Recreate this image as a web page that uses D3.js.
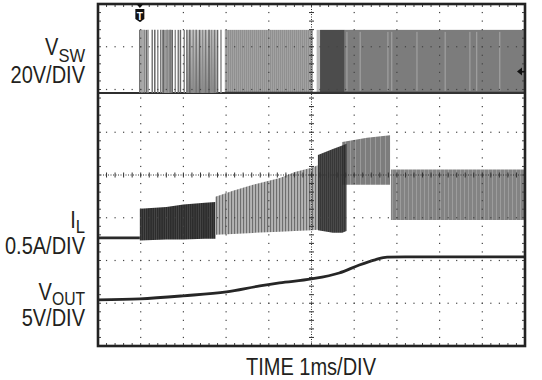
<!DOCTYPE html>
<html><head><meta charset="utf-8">
<script src="https://cdn.jsdelivr.net/npm/d3@7"></script>
<style>
html,body{margin:0;padding:0;background:#fff;}
svg{display:block;}
text{font-family:"Liberation Sans",Arial,Helvetica,sans-serif;fill:#231f20;}
</style></head><body>
<svg id="c" width="542" height="380"></svg>
<script>
// ---------- data ----------
const timeDomainMs = [0, 10];          // 1 ms/div, 10 divisions
const divDomain = [-4, 4];             // 8 vertical divisions
const vswPerDiv = 20, ilPerDiv = 0.5, voutPerDiv = 5;
const vswGroundDiv = 1.92, ilGroundDiv = -1.47, voutGroundDiv = -2.92;
const triggerTimeMs = 0.98;
const triggerLevelV = 10;

// V_SW: isolated switching pulses at start-up, then continuous switching bands
const vswHighV = 29.5;
const vswPulseT = [0.98,1.03,1.08,1.13,1.17,1.27,1.33,1.40,1.47,1.53,1.62,1.69,1.74,1.81,1.88,1.93,2.02,2.08,2.15,2.23,2.30,2.38,2.45,2.52,2.60,2.66,2.73,2.80,2.88];
const vswBurstStart = [1.50, 2.08];
const vswBurstEnd   = [1.73, 2.78];
const vswBandStart = [2.97, 5.12, 5.20, 5.78];
const vswBandEnd   = [5.03, 5.20, 5.78, 10.0];
const vswGlitchT = [5.83, 6.14, 6.79, 6.88, 7.47, 8.13, 8.71, 8.87, 9.41];

// I_L envelopes (A)
const ilIdleT = [0, 0.98];
const ilIdleA = [0, 0];
const ilBand1T  = [0.98, 1.6, 2.0, 2.5, 2.75];
const ilBand1Hi = [0.34, 0.36, 0.39, 0.41, 0.42];
const ilBand1Lo = [-0.03, -0.02, -0.02, -0.01, -0.01];
const ilBand2T  = [2.75, 3.16, 3.63, 4.26, 4.61, 5.0, 5.15];
const ilBand2Hi = [0.48, 0.55, 0.62, 0.70, 0.77, 0.82, 0.85];
const ilBand2Lo = [0.035, 0.045, 0.058, 0.07, 0.08, 0.09, 0.094];
const ilBand3T  = [5.15, 5.5, 5.72, 5.82];
const ilBand3Hi = [0.97, 1.04, 1.08, 1.10];
const ilBand3Lo = [0.09, 0.06, 0.06, 0.08];
const ilBand4T  = [5.72, 6.30, 6.84];
const ilBand4Hi = [1.12, 1.17, 1.20];
const ilBand4Lo = [0.62, 0.62, 0.62];
const ilBand5T  = [6.86, 8.0, 10.0];
const ilBand5Hi = [0.80, 0.80, 0.80];
const ilBand5Lo = [0.21, 0.21, 0.21];

// V_OUT (V)
const voutT = [0, 0.98, 1.99, 3.01, 3.79, 4.25, 5.0, 5.65, 6.12, 6.49, 6.77, 7.2, 10];
const voutV = [0, 0.12, 0.47, 0.93, 1.63, 1.98, 2.44, 3.14, 4.07, 4.68, 5.0, 5.02, 5.02];

// labels
const labelMain = ["V", "20V/DIV", "I", "0.5A/DIV", "V", "5V/DIV"];
const labelSub = ["SW", "L", "OUT"];
const xAxisLabel = "TIME 1ms/DIV";

// ---------- drawing ----------
const svg = d3.select("#c");
const x = d3.scaleLinear().domain(timeDomainMs).range([98, 525]);
const y = d3.scaleLinear().domain(divDomain).range([346, 4]);
const yV = v => y(v / vswPerDiv + vswGroundDiv);
const yI = a => y(a / ilPerDiv + ilGroundDiv);
const yO = v => y(v / voutPerDiv + voutGroundDiv);

const defs = svg.append("defs");
function stripe(id, w, bg, fg, lw) {
  const p = defs.append("pattern").attr("id", id).attr("patternUnits", "userSpaceOnUse")
    .attr("width", w).attr("height", 20);
  p.append("rect").attr("width", w).attr("height", 20).attr("fill", bg);
  p.append("rect").attr("width", lw).attr("height", 20).attr("fill", fg);
}
stripe("ilDark", 2.2, "#2c2c2c", "#4a4a4a", 0.7);
stripe("ilLight", 3, "#b4b4b4", "#6e6e6e", 1.1);
stripe("ilDarkMid", 2, "#3a3a3a", "#262626", 1);
stripe("ilMed", 5, "#7d7d7d", "#9a9a9a", 1);
stripe("ilMed5", 4, "#838383", "#a3a3a3", 0.8);
stripe("vswLight", 2, "#a2a2a2", "#8c8c8c", 0.8);
const g1 = defs.append("linearGradient").attr("id", "burst").attr("x1", 0).attr("x2", 0).attr("y1", 0).attr("y2", 1);
g1.append("stop").attr("offset", "0%").attr("stop-color", "#c8c8c8");
g1.append("stop").attr("offset", "100%").attr("stop-color", "#8a8a8a");

const traces = svg.append("g");

// V_SW baseline
traces.append("line").attr("x1", x(0)).attr("x2", x(10)).attr("y1", yV(0)).attr("y2", yV(0))
  .attr("stroke", "#2e2e2e").attr("stroke-width", 2);
vswBurstStart.forEach((t0, i) => traces.append("rect").attr("x", x(t0)).attr("width", x(vswBurstEnd[i]) - x(t0))
  .attr("y", yV(vswHighV)).attr("height", yV(0) - yV(vswHighV)).attr("fill", i === 0 ? "#9c9c9c" : "url(#burst)"));
vswPulseT.forEach((t, i) => traces.append("line").attr("x1", x(t)).attr("x2", x(t))
  .attr("y1", yV(vswHighV)).attr("y2", yV(0)).attr("stroke", i % 3 === 0 ? "#666" : (i % 3 === 1 ? "#8a8a8a" : "#777"))
  .attr("stroke-width", 1.5));
const vswFills = ["url(#vswLight)", "#b8b8b8", "#4c4c4c", "#7c7c7c"];
vswBandStart.forEach((t0, i) => traces.append("rect").attr("x", x(t0)).attr("width", x(vswBandEnd[i]) - x(t0))
  .attr("y", yV(vswHighV)).attr("height", yV(0) - yV(vswHighV)).attr("fill", vswFills[i]));
vswGlitchT.forEach(t => traces.append("line").attr("x1", x(t)).attr("x2", x(t))
  .attr("y1", yV(vswHighV) + 2).attr("y2", yV(0) - 2).attr("stroke", "#a8a8a8").attr("stroke-width", 1));
traces.append("line").attr("x1", x(vswBandStart[0])).attr("x2", x(10)).attr("y1", yV(0)).attr("y2", yV(0))
  .attr("stroke", "#333").attr("stroke-width", 2.2);

// I_L
const band = (T, Hi, Lo) => d3.area().x((d, i) => x(T[i])).y0((d, i) => yI(Lo[i])).y1((d, i) => yI(Hi[i]))(T);
traces.append("path").attr("d", d3.line().x((d, i) => x(ilIdleT[i])).y((d, i) => yI(ilIdleA[i]))(ilIdleT))
  .attr("stroke", "#2a2a2a").attr("stroke-width", 2.6).attr("fill", "none");
traces.append("path").attr("d", band(ilBand1T, ilBand1Hi, ilBand1Lo)).attr("fill", "url(#ilDark)");
traces.append("path").attr("d", band(ilBand2T, ilBand2Hi, ilBand2Lo)).attr("fill", "url(#ilLight)");
traces.append("path").attr("d", band(ilBand4T, ilBand4Hi, ilBand4Lo)).attr("fill", "url(#ilMed)");
traces.append("path").attr("d", band(ilBand3T, ilBand3Hi, ilBand3Lo)).attr("fill", "url(#ilDarkMid)").attr("opacity", 0.92);
traces.append("path").attr("d", band(ilBand5T, ilBand5Hi, ilBand5Lo)).attr("fill", "url(#ilMed5)");

// V_OUT
traces.append("path").attr("d", d3.line().curve(d3.curveMonotoneX).x((d, i) => x(voutT[i])).y((d, i) => yO(voutV[i]))(voutT))
  .attr("stroke", "#262626").attr("stroke-width", 2.8).attr("fill", "none");

// graticule overlay (drawn on top of traces like a scope screen)
const grid = svg.append("g");
const minorX = d3.range(0, 10.001, 0.2);
const minorY = d3.range(-4, 4.001, 0.2);
const majorX = d3.range(1, 10).filter(d => d !== 5);
const majorY = d3.range(-3, 4).filter(d => d !== 0);
majorX.forEach(mx => minorY.forEach(my => grid.append("rect")
  .attr("x", x(mx) - 0.6).attr("y", y(my) - 0.6).attr("width", 1.2).attr("height", 1.2).attr("fill", "#444")));
majorY.forEach(my => minorX.forEach(mx => grid.append("rect")
  .attr("x", x(mx) - 0.6).attr("y", y(my) - 0.6).attr("width", 1.2).attr("height", 1.2).attr("fill", "#444")));
grid.append("line").attr("x1", x(5)).attr("x2", x(5)).attr("y1", y(4)).attr("y2", y(-4))
  .attr("stroke", "#333").attr("stroke-width", 1).attr("stroke-dasharray", "1,1.5");
grid.append("line").attr("x1", x(0)).attr("x2", x(10)).attr("y1", y(0)).attr("y2", y(0))
  .attr("stroke", "#333").attr("stroke-width", 1).attr("stroke-dasharray", "1,1.5");
minorY.forEach(my => grid.append("line").attr("x1", x(5) - 2.5).attr("x2", x(5) + 2.5)
  .attr("y1", y(my)).attr("y2", y(my)).attr("stroke", "#333").attr("stroke-width", 1));
minorX.forEach(mx => grid.append("line").attr("y1", y(0) - 2.5).attr("y2", y(0) + 2.5)
  .attr("x1", x(mx)).attr("x2", x(mx)).attr("stroke", "#333").attr("stroke-width", 1));
minorX.forEach(mx => {
  grid.append("line").attr("x1", x(mx)).attr("x2", x(mx)).attr("y1", y(4)).attr("y2", y(4) + 3).attr("stroke", "#444");
  grid.append("line").attr("x1", x(mx)).attr("x2", x(mx)).attr("y1", y(-4)).attr("y2", y(-4) - 3).attr("stroke", "#444");
});
minorY.forEach(my => {
  grid.append("line").attr("y1", y(my)).attr("y2", y(my)).attr("x1", x(0)).attr("x2", x(0) + 3).attr("stroke", "#444");
  grid.append("line").attr("y1", y(my)).attr("y2", y(my)).attr("x1", x(10)).attr("x2", x(10) - 3).attr("stroke", "#444");
});

// frame
svg.append("rect").attr("x", x(0)).attr("y", y(4)).attr("width", x(10) - x(0)).attr("height", y(-4) - y(4))
  .attr("fill", "none").attr("stroke", "#222").attr("stroke-width", 2.6);

// trigger marker
const tx = x(triggerTimeMs);
svg.append("path").attr("d", `M${tx - 3.5},${y(4)} L${tx + 3.5},${y(4)} L${tx},${y(4) + 4} Z`).attr("fill", "#111");
svg.append("path").attr("d", `M${tx - 4.5},${y(4) + 5} h9 v10 l-4.5,3 l-4.5,-3 Z`).attr("fill", "#111");
svg.append("text").attr("x", tx).attr("y", y(4) + 15.5).attr("text-anchor", "middle")
  .style("font-weight", "bold").style("font-size", "10px").style("fill", "#fff").text("T");
// trigger level arrow
const ty = yV(triggerLevelV);
svg.append("path").attr("d", `M${x(10) - 8},${ty} L${x(10) - 3},${ty - 4} L${x(10) - 3},${ty + 4} Z`).attr("fill", "#111");
svg.append("line").attr("x1", x(10) - 4).attr("x2", x(10)).attr("y1", ty).attr("y2", ty).attr("stroke", "#111").attr("stroke-width", 1.2);

// labels (condensed by horizontal scaling)
const SX = 0.87;
function plain(txt, xa, yb, anchor) {
  svg.append("g").attr("transform", `translate(${xa},${yb}) scale(${SX},1)`)
    .append("text").attr("text-anchor", anchor).style("font-size", "23px").text(txt);
}
function subLabel(main, sub, yb, dy, subSize) {
  const t = svg.append("g").attr("transform", `translate(85,${yb}) scale(${SX},1)`)
    .append("text").attr("text-anchor", "end").style("font-size", "23px");
  t.append("tspan").text(main);
  t.append("tspan").attr("dy", dy).style("font-size", subSize + "px").text(sub);
}
subLabel(labelMain[0], labelSub[0], 55, 7, 19);
plain(labelMain[1], 85, 83, "end");
subLabel(labelMain[2], labelSub[1], 228, 5, 19);
plain(labelMain[3], 85, 254, "end");
subLabel(labelMain[4], labelSub[2], 300, 5, 18);
plain(labelMain[5], 85, 326, "end");
plain(xAxisLabel, 311, 375, "middle");
</script>
</body></html>
